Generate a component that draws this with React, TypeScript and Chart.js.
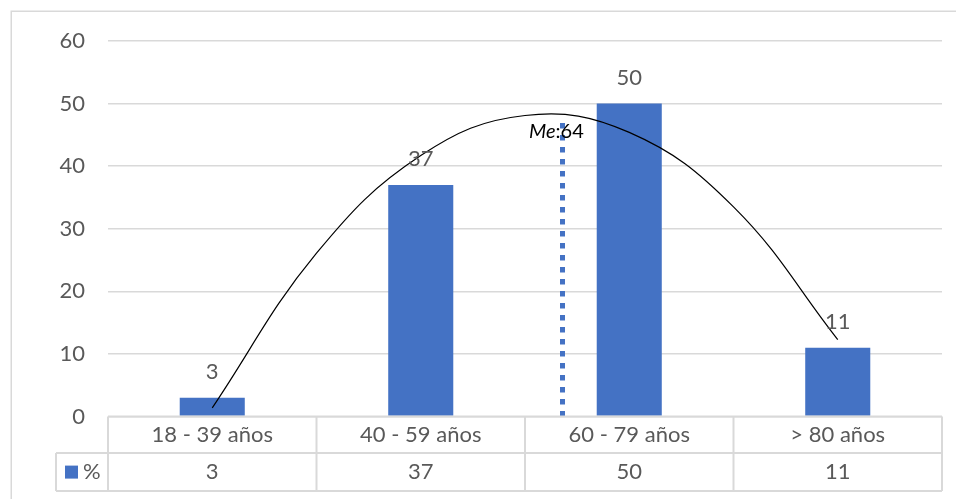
import React, { useEffect, useRef } from 'react';
import { Chart, registerables } from 'chart.js';

Chart.register(...registerables);

// Age groups and the share of patients in each one
const categories = ['18 - 39 años', '40 - 59 años', '60 - 79 años', '> 80 años'];
const percentages = [3, 37, 50, 11];
const seriesName = '%';

// Value axis
const yMin = 0;
const yMax = 60;
const yStep = 10;

// Second-order trend curve, sampled along the category positions (1 = first group)
const trendPositions = [1, 1.5, 2, 2.5, 3, 3.5, 4];
const trendValues = [1.4, 26.1, 41.7, 48.1, 45.4, 33.5, 12.3];

// Median marker (position on the category axis, height of the dotted line)
const medianPosition = 2.68;
const medianTop = 47;
const medianLabel = 'Me';
const medianValue = 64;

const FONT = 'Lato, "Open Sans", "Noto Sans", sans-serif';
const TEXT = '#595959';
const GRID = '#d9d9d9';
const BLUE = '#4472C4';

// category boundaries on the shared x axis
const boundaries = categories.map((_, i) => i + 0.5).concat([categories.length + 0.5]);

const decorations = {
  id: 'decorations',
  beforeDraw(chart: any) {
    const ctx = chart.ctx as CanvasRenderingContext2D;
    ctx.save();
    ctx.fillStyle = '#ffffff';
    ctx.fillRect(0, 0, chart.width, chart.height);
    ctx.strokeStyle = GRID;
    ctx.lineWidth = 1.5;
    ctx.strokeRect(11.25, 11.25, chart.width + 20, chart.height + 20);
    ctx.restore();
  },
  afterDatasetsDraw(chart: any) {
    const ctx = chart.ctx as CanvasRenderingContext2D;
    ctx.save();
    // value labels above the bars
    ctx.fillStyle = TEXT;
    ctx.font = `22px ${FONT}`;
    ctx.textAlign = 'center';
    ctx.textBaseline = 'middle';
    const meta = chart.getDatasetMeta(0);
    meta.data.forEach((el: any, i: number) => {
      ctx.fillText(String(percentages[i]), el.x, el.y - 26);
    });
    // median label
    const mx = chart.scales.x.getPixelForValue(medianPosition);
    const my = chart.scales.y.getPixelForValue(45.5);
    ctx.fillStyle = '#000000';
    ctx.textAlign = 'right';
    ctx.font = `italic 20px ${FONT}`;
    ctx.fillText(medianLabel, mx - 7, my);
    ctx.textAlign = 'left';
    ctx.font = `20px ${FONT}`;
    ctx.fillText(':' + medianValue, mx - 7, my);
    ctx.restore();
  },
  afterDraw(chart: any) {
    const ctx = chart.ctx as CanvasRenderingContext2D;
    const { left, right, bottom } = chart.chartArea;
    const xs = chart.scales.x;
    const bounds = boundaries.map((v) => xs.getPixelForValue(v));
    const r0 = bottom;
    const r1 = bottom + 36.5;
    const r2 = bottom + 74.5;
    const keyLeft = 56;
    ctx.save();
    ctx.strokeStyle = GRID;
    ctx.lineWidth = 2;
    ctx.beginPath();
    ctx.moveTo(left, r0);
    ctx.lineTo(right, r0);
    ctx.moveTo(keyLeft, r1);
    ctx.lineTo(right, r1);
    ctx.moveTo(keyLeft, r2);
    ctx.lineTo(right, r2);
    bounds.forEach((bx) => {
      ctx.moveTo(bx, r0);
      ctx.lineTo(bx, r2);
    });
    ctx.moveTo(keyLeft, r1);
    ctx.lineTo(keyLeft, r2);
    ctx.stroke();

    ctx.fillStyle = TEXT;
    ctx.font = `22px ${FONT}`;
    ctx.textAlign = 'center';
    ctx.textBaseline = 'middle';
    categories.forEach((c, i) => {
      const cx = (bounds[i] + bounds[i + 1]) / 2;
      ctx.fillText(c, cx, (r0 + r1) / 2);
      ctx.fillText(String(percentages[i]), cx, (r1 + r2) / 2);
    });
    // legend key
    ctx.fillStyle = BLUE;
    ctx.fillRect(65, (r1 + r2) / 2 - 6.5, 13, 13);
    ctx.fillStyle = TEXT;
    ctx.textAlign = 'left';
    ctx.fillText(seriesName, 83, (r1 + r2) / 2);
    ctx.restore();
  },
};

export default function App() {
  const canvasRef = useRef<HTMLCanvasElement | null>(null);

  useEffect(() => {
    const canvas = canvasRef.current;
    if (!canvas) return;
    const chart = new Chart(canvas, {
      type: 'bar',
      data: {
        datasets: [
          {
            type: 'bar',
            label: seriesName,
            // each group sits at position 1..n on the shared x axis
            data: percentages.map((v, i) => ({ x: i + 1, y: v })),
            backgroundColor: BLUE,
            barPercentage: 0.312,
            categoryPercentage: 1,
            grouped: false,
            order: 3,
          } as any,
          {
            type: 'line',
            label: 'Tendencia',
            data: trendPositions.map((x, i) => ({ x, y: trendValues[i] })),
            borderColor: '#000000',
            borderWidth: 1.2,
            pointRadius: 0,
            tension: 0.4,
            fill: false,
            order: 1,
          } as any,
          {
            type: 'line',
            label: medianLabel,
            data: [
              { x: medianPosition, y: 0 },
              { x: medianPosition, y: medianTop },
            ],
            borderColor: BLUE,
            borderWidth: 5,
            borderDash: [5.5, 6.5],
            borderCapStyle: 'butt',
            pointRadius: 0,
            fill: false,
            order: 2,
          } as any,
        ],
      },
      options: {
        responsive: false,
        animation: false,
        devicePixelRatio: 1,
        layout: { padding: { left: 0, top: 41, right: 14, bottom: 82.4 } },
        plugins: {
          legend: { display: false },
          tooltip: { enabled: false },
        },
        scales: {
          x: {
            type: 'linear',
            display: false,
            offset: false,
            min: boundaries[0],
            max: boundaries[boundaries.length - 1],
            afterBuildTicks(scale: any) {
              scale.ticks = boundaries.map((value) => ({ value }));
            },
          },
          y: {
            type: 'linear',
            min: yMin,
            max: yMax,
            ticks: {
              stepSize: yStep,
              color: TEXT,
              font: { family: FONT, size: 22 },
              padding: 23,
            },
            grid: { color: GRID, lineWidth: 1.5, drawTicks: false },
            border: { display: false },
            afterFit(scale: any) {
              scale.width = 108;
            },
          },
        },
      },
      plugins: [decorations],
    });
    return () => chart.destroy();
  }, []);

  return (
    <div style={{ position: 'absolute', left: 0, top: 0, width: 956, height: 499 }}>
      <canvas ref={canvasRef} width={956} height={499} style={{ display: 'block' }} />
    </div>
  );
}
